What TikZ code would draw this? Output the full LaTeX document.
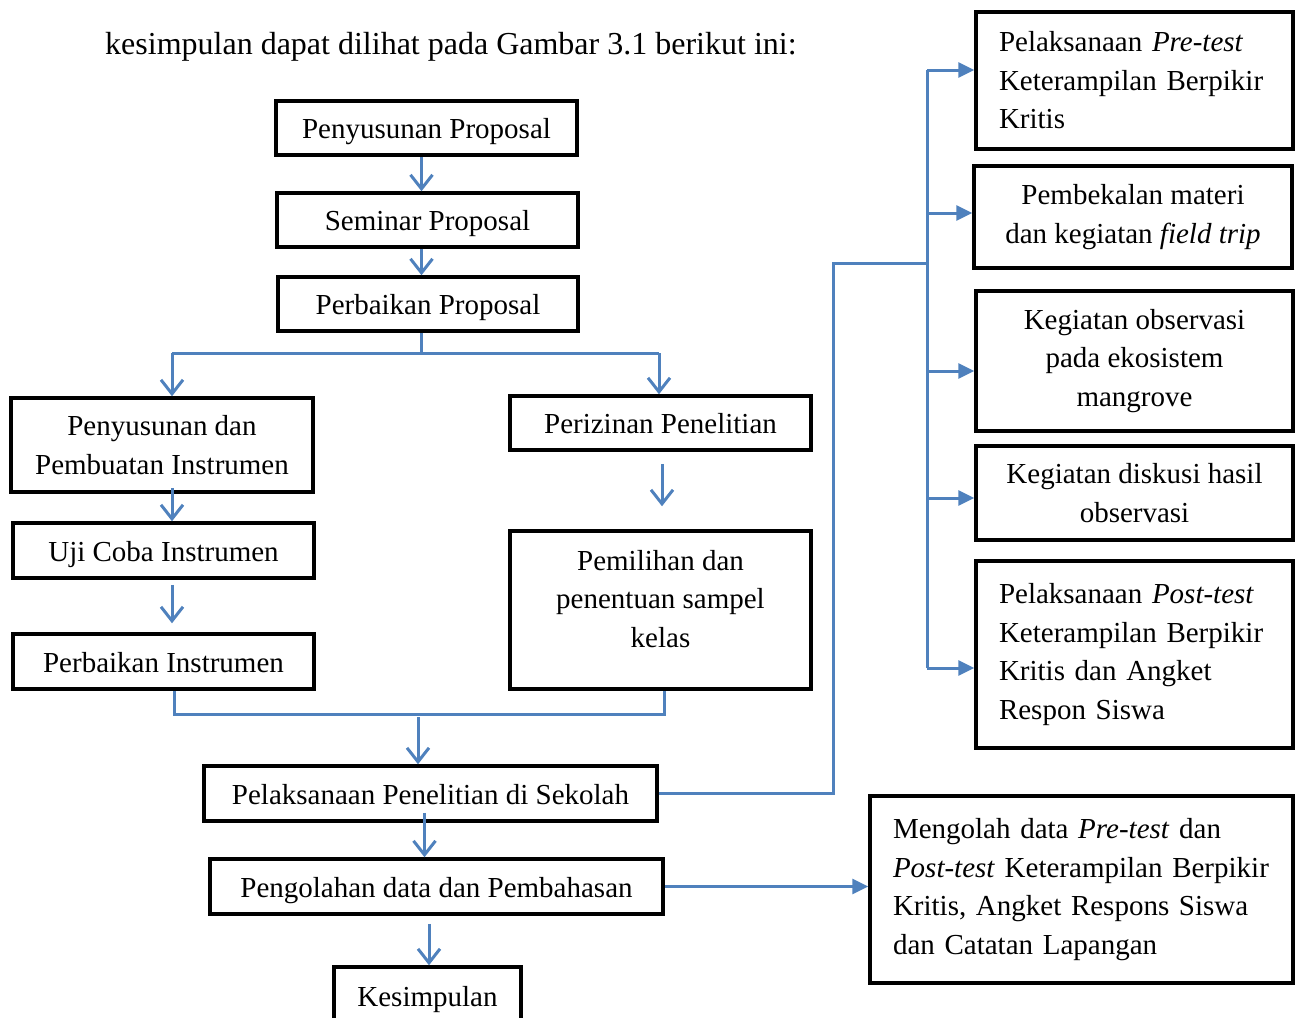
\documentclass[tikz,border=0pt]{standalone}
\usepackage{fontspec}
\setmainfont{Liberation Serif}
\usetikzlibrary{arrows.meta, positioning, calc}
\definecolor{flowblue}{HTML}{4F81BD}

\begin{document}
\begin{tikzpicture}[
  x=1pt, y=-1pt,
  every node/.style={font=\fontsize{29}{38.5}\selectfont},
  stepbox/.style={rectangle, draw=black, line width=3.5pt, inner sep=0pt, align=center},
  oneline/.style={stepbox, text height=27pt, text depth=6pt},
  sidebox/.style={rectangle, draw=black, line width=3.5pt, inner sep=0pt, align=left},
  downarrow/.style={-{Straight Barb[length=14pt, width=22pt]}, flowblue, line width=3pt},
  rightarrow/.style={-{Triangle[length=16pt, width=15pt]}, flowblue, line width=3pt},
  link/.style={flowblue, line width=3pt},
]
\useasboundingbox (0,0) rectangle (1297,1017);

% Intro line
\node[anchor=base west, inner sep=0pt, font=\fontsize{32}{40}\selectfont] (intro) at (105,54) {kesimpulan dapat dilihat pada Gambar 3.1 berikut ini:};

% Main column
\node[oneline, minimum width=301pt, minimum height=54pt] (prop) at (426.5,128) {Penyusunan Proposal};
\node[oneline, minimum width=301pt, minimum height=54pt] (sem) at (427.5,220) {Seminar Proposal};
\node[oneline, minimum width=300pt, minimum height=54pt] (perb) at (428,304) {Perbaikan Proposal};

% Left branch: instrument
\node[stepbox, minimum width=302pt, minimum height=94pt] (inst) at (162,445) {Penyusunan dan\\Pembuatan Instrumen};
\node[oneline, minimum width=301pt, minimum height=55pt] (uji) at (163.5,550.5) {Uji Coba Instrumen};
\node[oneline, minimum width=301pt, minimum height=55pt] (perbinst) at (163.5,661.5) {Perbaikan Instrumen};

% Right branch: permit
\node[oneline, minimum width=301pt, minimum height=54pt] (izin) at (660.5,423) {Perizinan Penelitian};
\node[stepbox, minimum width=301pt, minimum height=158pt] (pilih) at (660.5,610) {Pemilihan dan\\penentuan sampel\\kelas\\[-16pt]};

% Lower column
\node[oneline, minimum width=453pt, minimum height=55pt] (sekolah) at (430.5,793.5) {Pelaksanaan Penelitian di Sekolah};
\node[oneline, minimum width=453pt, minimum height=55pt] (olah) at (436.5,886.5) {Pengolahan data dan Pembahasan};
\node[oneline, minimum width=187pt, minimum height=58pt] (kes) at (427.5,996) {Kesimpulan};

% Right column: activities at school
\node[sidebox, minimum width=317pt, minimum height=137pt, text width=271pt] (pre) at (1134.5,80.5) {Pelaksanaan \textit{Pre-test}\\Keterampilan Berpikir\\Kritis};
\node[stepbox, minimum width=318pt, minimum height=102pt] (field) at (1133,217) {Pembekalan materi\\dan kegiatan \textit{field trip}};
\node[stepbox, minimum width=317pt, minimum height=140pt] (obs) at (1134.5,361) {Kegiatan observasi\\pada ekosistem\\mangrove};
\node[stepbox, minimum width=317pt, minimum height=94pt] (disk) at (1134.5,493) {Kegiatan diskusi hasil\\observasi};
\node[sidebox, minimum width=317pt, minimum height=187pt, text width=271pt] (post) at (1134.5,654.5) {Pelaksanaan \textit{Post-test}\\Keterampilan Berpikir\\Kritis dan Angket\\Respon Siswa\\[14pt]};
\node[sidebox, minimum width=423pt, minimum height=187pt, text width=377pt] (mengolah) at (1081.5,889.5) {Mengolah data \textit{Pre-test} dan\\\textit{Post-test} Keterampilan Berpikir\\Kritis, Angket Respons Siswa\\dan Catatan Lapangan\\[14pt]};

% Connectors
\coordinate (split) at (421,353);
\coordinate (lft) at (172,353);
\coordinate (rgt) at (659,353);
\coordinate (merge) at (418,717);
\coordinate (turn) at (833,263);
\coordinate (trunk) at (927,263);
\coordinate (ttop) at (927,70);
\coordinate (tbot) at (927,668);

\draw[downarrow] ([xshift=-5pt]prop.south) -- ([xshift=-5pt]prop.south |- sem.north);
\draw[downarrow] ([xshift=-6pt]sem.south) -- ([xshift=-6pt]sem.south |- perb.north);
\draw[link] (perb.south -| split) -- (split);
\draw[link] (lft) -- (rgt);
\draw[downarrow] (lft) -- (lft |- inst.north);
\draw[downarrow] (rgt) -- (rgt |- izin.north);
\draw[downarrow] ([xshift=10pt, yshift=6pt]inst.south) -- ([xshift=10pt]inst.south |- uji.north);
\draw[downarrow] ([xshift=8.5pt, yshift=-5pt]uji.south) -- ([xshift=8.5pt, yshift=9pt]perbinst.north);
\draw[downarrow] ([xshift=1.5pt, yshift=-12pt]izin.south) -- ([xshift=1.5pt, yshift=23pt]pilih.north);
\draw[link] ([xshift=11pt]perbinst.south) -- ++(0,24) -| ([xshift=3.5pt]pilih.south);
\draw[downarrow] (merge) -- (merge |- sekolah.north);
\draw[downarrow] ([xshift=-6pt, yshift=10pt]sekolah.south) -- ([xshift=-6pt]sekolah.south |- olah.north);
\draw[downarrow] ([xshift=1.5pt, yshift=-8pt]kes.north |- olah.south) -- ([xshift=1.5pt]kes.north);
\draw[rightarrow] (olah.east) -- (olah.east -| mengolah.west);

% Trunk to the activities
\draw[link] (sekolah.east) -| (turn) -- (trunk);
\draw[link] (ttop) -- (tbot);
\foreach \n/\dy in {pre/10.5, field/4, obs/-10, disk/-5, post/-13.5}
  \draw[rightarrow] ([yshift=\dy pt]\n.west -| trunk) -- ([yshift=\dy pt]\n.west);

\end{tikzpicture}
\end{document}
